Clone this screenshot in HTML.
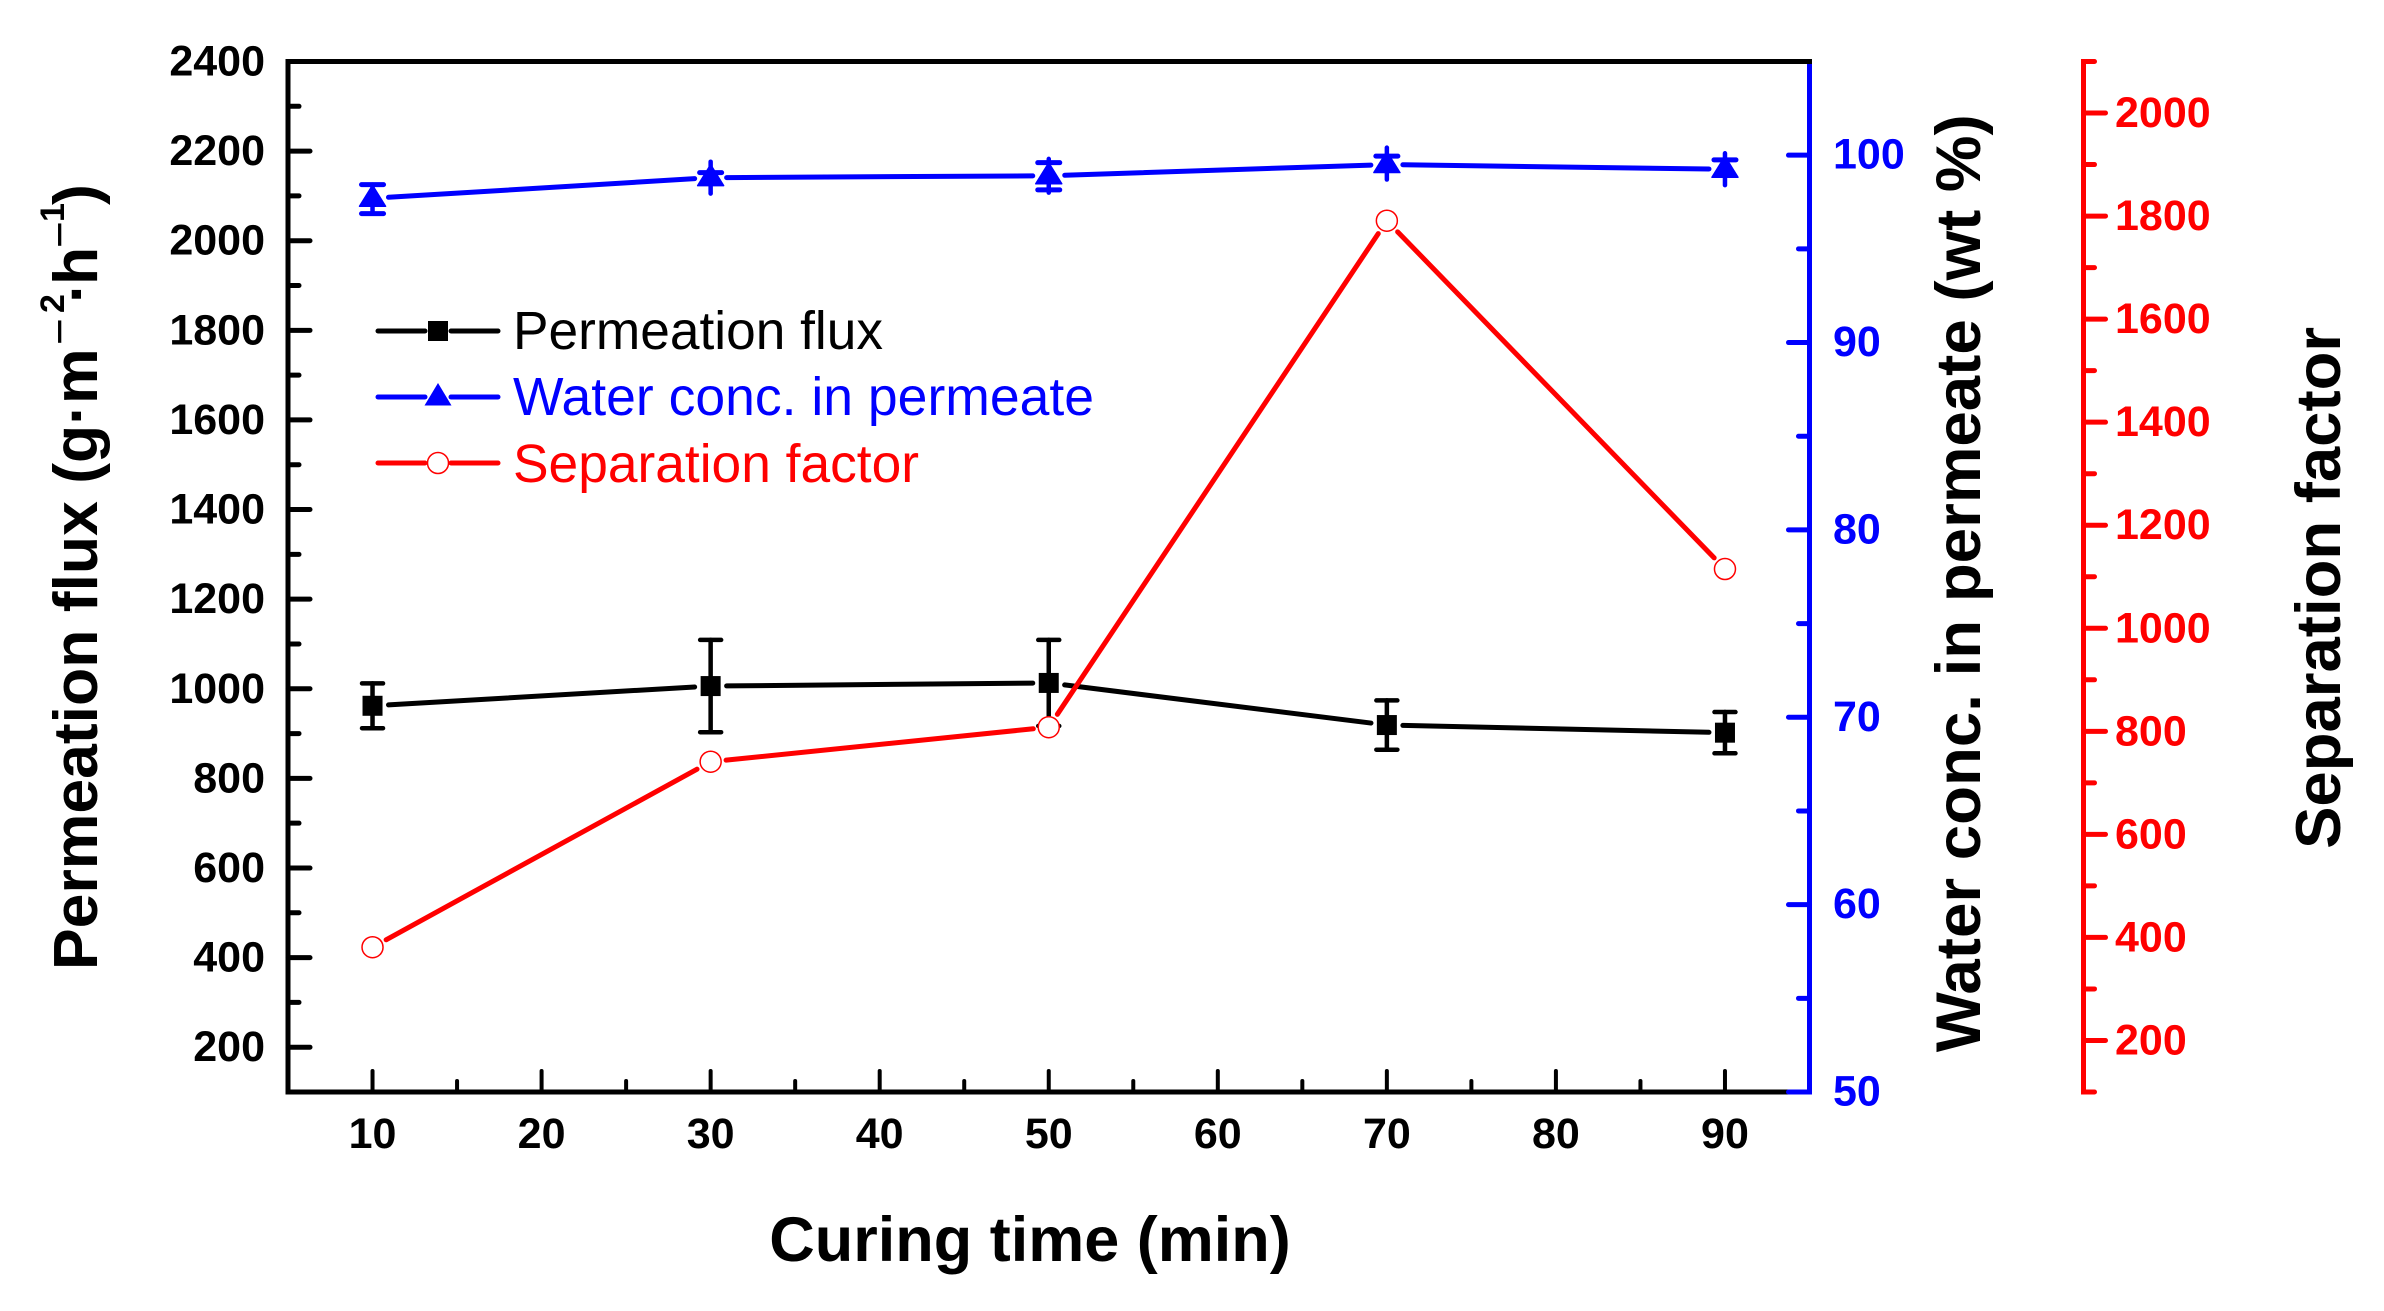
<!DOCTYPE html>
<html lang="en">
<head>
<meta charset="utf-8">
<title>Curing time chart</title>
<style>
html,body{margin:0;padding:0;background:#fff;}
svg{display:block;font-family:"Liberation Sans",sans-serif;}
.tick{font-weight:bold;font-size:43px;}
.title{font-weight:bold;font-size:63px;fill:#000;}
.leg{font-size:54px;}
</style>
</head>
<body>
<svg id="chart" xmlns="http://www.w3.org/2000/svg" width="2384" height="1311" viewBox="0 0 2384 1311">
  <rect width="2384" height="1311" fill="#fff"/>
  <g id="axes"></g>
  <g id="series"></g>
  <text class="title" x="1030" y="1261" text-anchor="middle">Curing time (min)</text>
  <text class="title" style="font-size:62.5px" transform="translate(97,0) rotate(-90)"><tspan x="-970" y="0">Permeation flux (g·m</tspan><tspan x="-345" y="-22" font-size="46" font-weight="normal">−</tspan><tspan x="-313" y="-33" font-size="34">2</tspan><tspan x="-303" y="0">·</tspan><tspan x="-285" y="0">h</tspan><tspan x="-248" y="-22" font-size="46" font-weight="normal">−</tspan><tspan x="-222" y="-33" font-size="34">1</tspan><tspan x="-205" y="0">)</tspan></text>
  <text class="title" transform="translate(1980,583.3) rotate(-90)" text-anchor="middle" textLength="938" lengthAdjust="spacingAndGlyphs">Water conc. in permeate (wt %)</text>
  <text class="title" transform="translate(2340,587.9) rotate(-90)" text-anchor="middle" textLength="522" lengthAdjust="spacingAndGlyphs">Separation factor</text>
  <g>
    <line x1="378" y1="331" x2="425" y2="331" stroke="#000" stroke-width="5" stroke-linecap="round"/>
    <line x1="451" y1="331" x2="498" y2="331" stroke="#000" stroke-width="5" stroke-linecap="round"/>
    <rect x="428" y="321" width="20" height="20" fill="#000"/>
    <text class="leg" x="513" y="349" fill="#000" textLength="370" lengthAdjust="spacingAndGlyphs">Permeation flux</text>
    <line x1="378" y1="397" x2="425" y2="397" stroke="#00f" stroke-width="5" stroke-linecap="round"/>
    <line x1="451" y1="397" x2="498" y2="397" stroke="#00f" stroke-width="5" stroke-linecap="round"/>
    <polygon points="438,383 451.500,405.500 424.500,405.500" fill="#00f"/>
    <text class="leg" x="513" y="415" fill="#00f" textLength="581" lengthAdjust="spacingAndGlyphs">Water conc. in permeate</text>
    <line x1="378" y1="463" x2="425" y2="463" stroke="#f00" stroke-width="5" stroke-linecap="round"/>
    <line x1="451" y1="463" x2="498" y2="463" stroke="#f00" stroke-width="5" stroke-linecap="round"/>
    <circle cx="438" cy="463" r="10.500" fill="#fff" stroke="#f00" stroke-width="1.500"/>
    <text class="leg" x="513" y="482" fill="#f00" textLength="406" lengthAdjust="spacingAndGlyphs">Separation factor</text>
  </g>
</svg>
<script>
var categories = [10, 30, 50, 70, 90];
var fluxValues = [962, 1006, 1013, 919, 902];
var fluxErrors = [50, 103, 96, 55, 46];
var waterValues = [97.7, 98.8, 98.9, 99.5, 99.25];
var waterStemHigh = [0.73, 0.85, 0.9, 0.9, 0.85];
var waterStemLow = [0.82, 0.85, 0.9, 0.8, 0.85];
var waterCapHigh = [0.73, 0.27, 0.7, 0.45, 0.5];
var waterCapLow = [0.82, null, 0.75, null, null];
var separationValues = [381, 741, 808, 1791, 1115];
var xMajorTicks = [10, 20, 30, 40, 50, 60, 70, 80, 90];
var xMinorTicks = [15, 25, 35, 45, 55, 65, 75, 85];
var leftMajorTicks = [200, 400, 600, 800, 1000, 1200, 1400, 1600, 1800, 2000, 2200, 2400];
var leftMinorTicks = [300, 500, 700, 900, 1100, 1300, 1500, 1700, 1900, 2100, 2300];
var blueMajorTicks = [50, 60, 70, 80, 90, 100];
var blueMinorTicks = [55, 65, 75, 85, 95];
var redMajorTicks = [200, 400, 600, 800, 1000, 1200, 1400, 1600, 1800, 2000];
var redMinorTicks = [100, 300, 500, 700, 900, 1100, 1300, 1500, 1700, 1900, 2100];

var SVGNS = 'http://www.w3.org/2000/svg';
var axesG = document.getElementById('axes');
var seriesG = document.getElementById('series');
var PLOT = { left: 288, right: 1809.5, top: 61.5, bottom: 1092 };
var RED_X = 2083.5;

function xScale(v) { return PLOT.left + (v - 5) / 90 * (PLOT.right - PLOT.left); }
function yLeft(v) { return PLOT.bottom - (v - 100) / 2300 * (PLOT.bottom - PLOT.top); }
function yBlue(v) { return PLOT.bottom - (v - 50) / 55 * (PLOT.bottom - PLOT.top); }
function yRed(v) { return PLOT.bottom - (v - 100) / 2000 * (PLOT.bottom - PLOT.top); }

function makeLine(parent, x1, y1, x2, y2, color, width, cap) {
  var l = document.createElementNS(SVGNS, 'line');
  l.setAttribute('x1', x1);
  l.setAttribute('y1', y1);
  l.setAttribute('x2', x2);
  l.setAttribute('y2', y2);
  l.setAttribute('stroke', color);
  l.setAttribute('stroke-width', width);
  l.setAttribute('stroke-linecap', cap || 'round');
  parent.appendChild(l);
  return l;
}
function makeText(parent, x, y, str, color, anchor) {
  var t = document.createElementNS(SVGNS, 'text');
  t.setAttribute('class', 'tick');
  t.setAttribute('x', x);
  t.setAttribute('y', y);
  t.setAttribute('fill', color);
  t.setAttribute('text-anchor', anchor);
  t.textContent = str;
  parent.appendChild(t);
  return t;
}

/* axis spines */
var spineLeft = makeLine(axesG, PLOT.left, PLOT.top, PLOT.left, PLOT.bottom, '#000', 5, 'square');


var spineBottom = makeLine(axesG, PLOT.left, PLOT.bottom, PLOT.right, PLOT.bottom, '#000', 5, 'square');


var spineBlue = makeLine(axesG, PLOT.right, PLOT.top, PLOT.right, PLOT.bottom, '#00f', 5, 'square');


var spineTop = makeLine(axesG, PLOT.left, PLOT.top, PLOT.right, PLOT.top, '#000', 5, 'square');


var spineRed = makeLine(axesG, RED_X, PLOT.top, RED_X, PLOT.bottom, '#f00', 5, 'square');



/* x axis */
xMajorTicks.forEach(function (v) {
  var tk = makeLine(axesG, xScale(v), PLOT.bottom, xScale(v), PLOT.bottom - 21, '#000', 4);
  
  
  var lb = makeText(axesG, xScale(v), 1148, String(v), '#000', 'middle');
  
  
});
xMinorTicks.forEach(function (v) {
  var tk = makeLine(axesG, xScale(v), PLOT.bottom, xScale(v), PLOT.bottom - 11, '#000', 4);
  
  
});

/* left axis */
leftMajorTicks.forEach(function (v) {
  var tk = makeLine(axesG, PLOT.left, yLeft(v), PLOT.left + 22, yLeft(v), '#000', 5);
  
  
  var lb = makeText(axesG, 265, yLeft(v) + 14, String(v), '#000', 'end');
  
  
});
leftMinorTicks.forEach(function (v) {
  var tk = makeLine(axesG, PLOT.left, yLeft(v), PLOT.left + 11, yLeft(v), '#000', 5);
  
  
});

/* blue axis */
blueMajorTicks.forEach(function (v) {
  var tk = makeLine(axesG, PLOT.right, yBlue(v), PLOT.right - 21, yBlue(v), '#00f', 5);
  
  
  var lb = makeText(axesG, 1833, yBlue(v) + 13.5, String(v), '#00f', 'start');
  
  
});
blueMinorTicks.forEach(function (v) {
  var tk = makeLine(axesG, PLOT.right, yBlue(v), PLOT.right - 11, yBlue(v), '#00f', 5);
  
  
});

/* red axis */
redMajorTicks.forEach(function (v) {
  var tk = makeLine(axesG, RED_X, yRed(v), RED_X + 22, yRed(v), '#f00', 5);
  
  
  var lb = makeText(axesG, 2115, yRed(v) + 14, String(v), '#f00', 'start');
  
  
});
redMinorTicks.forEach(function (v) {
  var tk = makeLine(axesG, RED_X, yRed(v), RED_X + 11, yRed(v), '#f00', 5);
  
  
});

/* gapped connecting segments */
function segment(px, py, qx, qy, gap, color) {
  var dx = qx - px, dy = qy - py, len = Math.sqrt(dx * dx + dy * dy);
  var ux = dx / len, uy = dy / len;
  return makeLine(seriesG, px + ux * gap, py + uy * gap, qx - ux * gap, qy - uy * gap, color, 5);
}

/* flux series */
categories.forEach(function (c, i) {
  var x = xScale(c);
  if (i > 0) {
    var s = segment(xScale(categories[i - 1]), yLeft(fluxValues[i - 1]), x, yLeft(fluxValues[i]), 16, '#000');
    
    
  }
  var hi = yLeft(fluxValues[i] + fluxErrors[i]), lo = yLeft(fluxValues[i] - fluxErrors[i]);
  var stem = makeLine(seriesG, x, hi, x, lo, '#000', 4.5);
  
  
  var capTop = makeLine(seriesG, x - 10.5, hi, x + 10.5, hi, '#000', 4.5);
  
  
  var capBottom = makeLine(seriesG, x - 10.5, lo, x + 10.5, lo, '#000', 4.5);
  
  
  var m = document.createElementNS(SVGNS, 'rect');
  m.setAttribute('x', x - 10);
  m.setAttribute('y', yLeft(fluxValues[i]) - 10);
  m.setAttribute('width', 20);
  m.setAttribute('height', 20);
  m.setAttribute('fill', '#000');
  
  
  seriesG.appendChild(m);
});

/* water series */
categories.forEach(function (c, i) {
  var x = xScale(c);
  var y = yBlue(waterValues[i]);
  if (i > 0) {
    var s = segment(xScale(categories[i - 1]), yBlue(waterValues[i - 1]), x, y, 16, '#00f');
    
    
  }
  var stem = makeLine(seriesG, x, yBlue(waterValues[i] + waterStemHigh[i]), x, yBlue(waterValues[i] - waterStemLow[i]), '#00f', 4.5);
  
  
  var capY = yBlue(waterValues[i] + waterCapHigh[i]);
  var capTop = makeLine(seriesG, x - 11, capY, x + 11, capY, '#00f', 5);
  
  
  if (waterCapLow[i] !== null) {
    var capLowY = yBlue(waterValues[i] - waterCapLow[i]);
    var capBottom = makeLine(seriesG, x - 11, capLowY, x + 11, capLowY, '#00f', 5);
    
    
  }
  var m = document.createElementNS(SVGNS, 'polygon');
  m.setAttribute('points', x + ',' + (y - 13) + ' ' + (x + 13) + ',' + (y + 8) + ' ' + (x - 13) + ',' + (y + 8));
  m.setAttribute('fill', '#00f');
  m.setAttribute('stroke', '#00f');
  m.setAttribute('stroke-width', '1.5');
  m.setAttribute('stroke-linejoin', 'round');
  
  
  seriesG.appendChild(m);
});

/* separation series */
categories.forEach(function (c, i) {
  var x = xScale(c);
  var y = yRed(separationValues[i]);
  if (i > 0) {
    var s = segment(xScale(categories[i - 1]), yRed(separationValues[i - 1]), x, y, 15.5, '#f00');
    
    
  }
  var m = document.createElementNS(SVGNS, 'circle');
  m.setAttribute('cx', x);
  m.setAttribute('cy', y);
  m.setAttribute('r', 10.5);
  m.setAttribute('fill', '#fff');
  m.setAttribute('stroke', '#f00');
  m.setAttribute('stroke-width', 1.5);
  
  
  seriesG.appendChild(m);
});
</script>
</body>
</html>
